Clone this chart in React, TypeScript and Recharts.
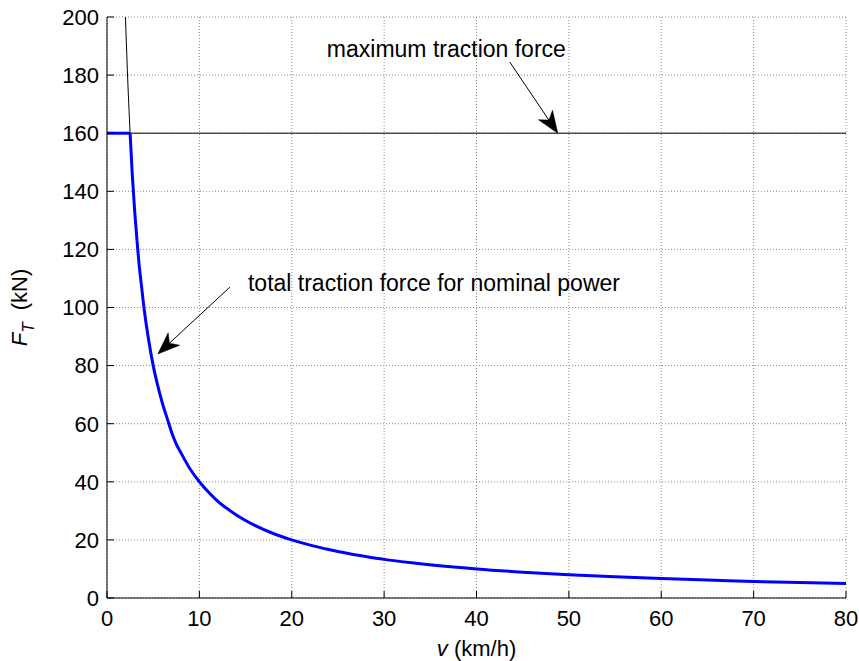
import { LineChart, Line, XAxis, YAxis, CartesianGrid, ReferenceLine, ReferenceDot, Label } from 'recharts'

// speed (km/h) and total traction force (kN) at nominal power
const LIMIT_SPEED = [0, 2.5]
const LIMIT_FORCE = [160, 160]
const SPEED = [2.5, 2.75, 3, 3.25, 3.5, 3.75, 4, 4.5, 5, 5.5, 6, 6.5, 7, 7.5, 8, 9, 10, 11, 12, 13, 14, 15, 16, 18, 20, 22, 24, 26, 28, 30, 33, 36, 40, 45, 50, 55, 60, 65, 70, 75, 80]
const FORCE = [160, 145, 133, 123, 114, 107, 100, 89, 80, 73, 67, 62, 57, 53, 50, 44.4, 40, 36.4, 33.3, 30.8, 28.6, 26.7, 25, 22.2, 20, 18.2, 16.7, 15.4, 14.3, 13.3, 12.1, 11.1, 10, 8.9, 8, 7.3, 6.7, 6.2, 5.7, 5.3, 5]

// thin power hyperbola above the force limit
const HYP_SPEED = [2, 2.2, 2.5]
const HYP_FORCE = [200, 182, 160]

const MAX_FORCE = 160
const X_TICKS = [0, 10, 20, 30, 40, 50, 60, 70, 80]
const Y_TICKS = [0, 20, 40, 60, 80, 100, 120, 140, 160, 180, 200]

const limit = LIMIT_SPEED.map((v, i) => ({ v, f: LIMIT_FORCE[i] }))
const curve = SPEED.map((v, i) => ({ v, f: FORCE[i] }))
const hyperbola = HYP_SPEED.map((v, i) => ({ v, f: HYP_FORCE[i] }))

const FONT = '"Liberation Sans", Arial, Helvetica, sans-serif'
const GRID = '#8c8c8c'
const BLUE = '#0000ff'

// eslint-disable-next-line @typescript-eslint/no-explicit-any
function Arrow(props: any) {
  const { x1, y1, x2, y2 } = props
  const dx = x2 - x1
  const dy = y2 - y1
  const len = Math.sqrt(dx * dx + dy * dy) || 1
  const ux = dx / len
  const uy = dy / len
  const nx = -uy
  const ny = ux
  const L = 22
  const W = 8.5
  const bx = x2 - L * ux
  const by = y2 - L * uy
  const kx = x2 - 0.72 * L * ux
  const ky = y2 - 0.72 * L * uy
  const pts = [
    [x2, y2],
    [bx + W * nx, by + W * ny],
    [kx, ky],
    [bx - W * nx, by - W * ny],
  ].map((p) => p.join(',')).join(' ')
  return (
    <g>
      <line x1={x1} y1={y1} x2={kx} y2={ky} stroke="#000" strokeWidth={1} />
      <polygon points={pts} fill="#000" stroke="#000" strokeWidth={0.5} />
    </g>
  )
}

function textShape(text: string) {
  // eslint-disable-next-line @typescript-eslint/no-explicit-any
  return (p: any) => (
    <text x={p.cx} y={p.cy} fontFamily={FONT} fontSize={23} fill="#000">{text}</text>
  )
}

// eslint-disable-next-line @typescript-eslint/no-explicit-any
function YTitle(props: any) {
  const { x, y, height } = props.viewBox
  const cx = x + 27
  const cy = y + height / 2
  return (
    <text x={cx} y={cy} transform={`rotate(-90 ${cx} ${cy})`} textAnchor="middle" fontFamily={FONT} fontSize={22} fill="#000">
      <tspan fontStyle="italic">F</tspan>
      <tspan fontStyle="italic" fontSize={17} dy={7}>T</tspan>
      <tspan dy={-7}>{'\u00a0\u00a0(kN)'}</tspan>
    </text>
  )
}

// eslint-disable-next-line @typescript-eslint/no-explicit-any
function XTitle(props: any) {
  const { x, y, width } = props.viewBox
  return (
    <text x={x + width / 2} y={y + 58} textAnchor="middle" fontFamily={FONT} fontSize={22} fill="#000">
      <tspan fontStyle="italic">v</tspan>
      <tspan> (km/h)</tspan>
    </text>
  )
}

export default function App() {
  return (
    <div style={{ position: 'absolute', left: 0, top: 0, background: '#fff' }}>
      <LineChart width={859} height={661} margin={{ top: 17, right: 13, bottom: 0, left: 0 }}>
        <CartesianGrid stroke={GRID} strokeDasharray="1 2" />
        <XAxis
          dataKey="v"
          type="number"
          domain={[0, 80]}
          ticks={X_TICKS}
          height={63}
          axisLine={{ stroke: '#000' }}
          tickLine={{ stroke: '#000' }}
          tickSize={-7}
          tickMargin={19}
          tick={{ fill: '#000', fontSize: 22, fontFamily: FONT }}
          allowDataOverflow
        >
          <Label content={<XTitle />} />
        </XAxis>
        <YAxis
          type="number"
          domain={[0, 200]}
          ticks={Y_TICKS}
          width={107}
          axisLine={{ stroke: '#000' }}
          tickLine={{ stroke: '#000' }}
          tickSize={-7}
          tickMargin={15}
          tick={{ fill: '#000', fontSize: 22, fontFamily: FONT }}
          allowDataOverflow
        >
          <Label content={<YTitle />} />
        </YAxis>
        <ReferenceLine y={MAX_FORCE} stroke="#000" strokeWidth={1} />
        <Line data={hyperbola} dataKey="f" type="monotone" stroke="#000" strokeWidth={1} dot={false} isAnimationActive={false} />
        <Line data={limit} dataKey="f" type="linear" stroke={BLUE} strokeWidth={3} dot={false} isAnimationActive={false} />
        <Line data={curve} dataKey="f" type="monotone" stroke={BLUE} strokeWidth={3} dot={false} isAnimationActive={false} />
        <ReferenceLine segment={[{ x: 43.6, y: 184.5 }, { x: 48.8, y: 160 }]} shape={Arrow} />
        <ReferenceLine segment={[{ x: 13.3, y: 107 }, { x: 5.5, y: 84 }]} shape={Arrow} />
        <ReferenceDot x={23.8} y={186.2} r={0} shape={textShape('maximum traction force')} />
        <ReferenceDot x={15.26} y={105.8} r={0} shape={textShape('total traction force for nominal power')} />
      </LineChart>
    </div>
  )
}
